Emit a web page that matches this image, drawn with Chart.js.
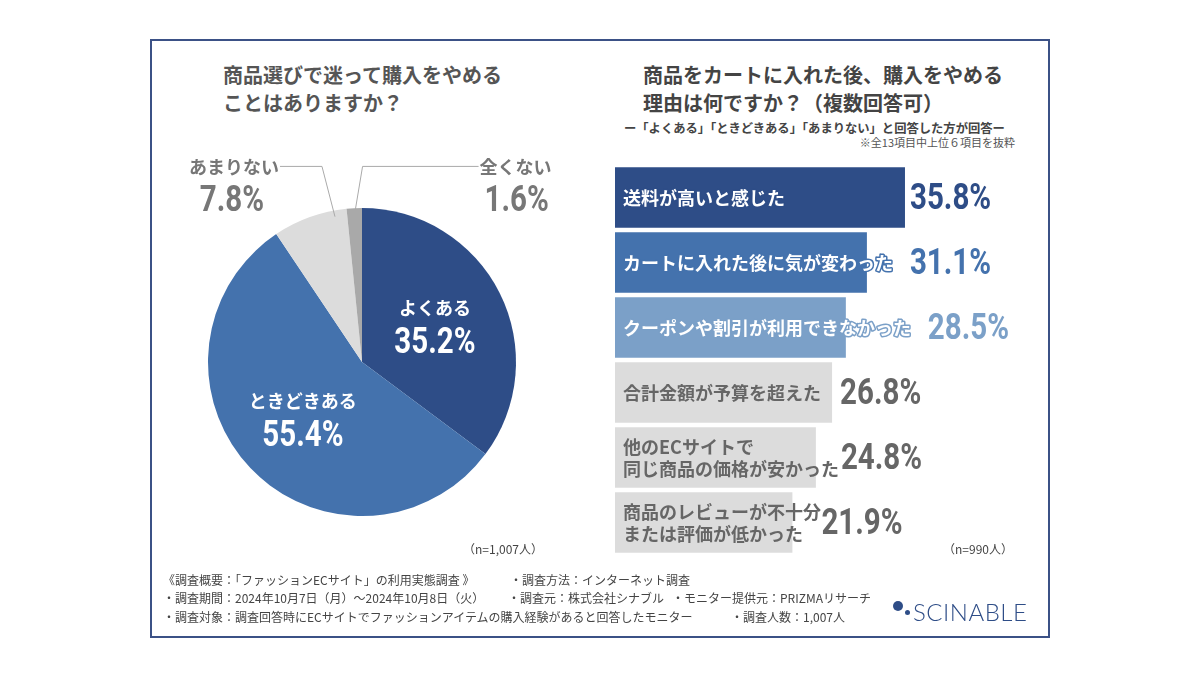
<!DOCTYPE html>
<html>
<head>
<meta charset="utf-8">
<script src="https://cdn.jsdelivr.net/npm/chart.js@4.4.1/dist/chart.umd.min.js"></script>
<style>
  html, body { margin: 0; padding: 0; background: #fff; }
  body { width: 1200px; height: 675px; position: relative; overflow: hidden;
         font-family: "Noto Sans CJK JP", "Noto Sans", sans-serif; }
  .frame { position: absolute; left: 150px; top: 39px; width: 896px; height: 595px;
           border: 2px solid #3b5186; }
  .t { position: absolute; white-space: nowrap; }
  .title { font-size: 20px; font-weight: bold; color: #555; line-height: 28px; }
  .foot { font-size: 12px; color: #444; line-height: 14px; }
  canvas { position: absolute; }
  .dot { position: absolute; border-radius: 50%; background: #2e4d87; }
</style>
</head>
<body>
<div class="frame"></div>

<div class="t title" style="left:223px; top:61px;">商品選びで迷って購入をやめる<br>ことはありますか？</div>
<div class="t title" style="left:643px; top:61px; color:#444;">商品をカートに入れた後、購入をやめる<br>理由は何ですか？（複数回答可）</div>
<div class="t" style="left:624px; top:119px; font-size:12.3px; font-weight:bold; color:#444;">ー「よくある」「ときどきある」「あまりない」と回答した方が回答ー</div>
<div class="t" style="right:185px; top:134px; font-size:11px; color:#555;">※全13項目中上位６項目を抜粋</div>

<canvas id="pie" width="404" height="424" style="left:160px; top:150px; width:404px; height:424px;"></canvas>
<canvas id="bar" width="420" height="390" style="left:615px; top:165px; width:420px; height:390px;"></canvas>

<div class="t" style="left:463px; top:540px; font-size:12px; color:#444;">（n=1,007人）</div>
<div class="t" style="left:943px; top:540px; font-size:12px; color:#444;">（n=990人）</div>

<div class="t foot" style="left:163px; top:573px;">《調査概要：「ファッションECサイト」の利用実態調査 》</div>
<div class="t foot" style="left:510px; top:573px;">・調査方法：インターネット調査</div>
<div class="t foot" style="left:163px; top:591px;">・調査期間：2024年10月7日（月）～2024年10月8日（火）</div>
<div class="t foot" style="left:508px; top:591px;">・調査元：株式会社シナブル</div>
<div class="t foot" style="left:672px; top:591px;">・モニター提供元：PRIZMAリサーチ</div>
<div class="t foot" style="left:163px; top:610px;">・調査対象：調査回答時にECサイトでファッションアイテムの購入経験があると回答したモニター</div>
<div class="t foot" style="left:731px; top:610px;">・調査人数：1,007人</div>

<div class="dot" style="left:893px; top:601px; width:10px; height:10px;"></div>
<div class="dot" style="left:905px; top:610px; width:5px; height:5px;"></div>
<div class="t" style="left:913px; top:597px; font-family:Lato, 'Open Sans', sans-serif; font-weight:300; font-size:24px; color:#2e4d87; letter-spacing:0.5px;">SCINABLE</div>

<script>
// pie data
const pieLabels = ['よくある', 'ときどきある', 'あまりない', '全くない'];
const pieValues = [35.2, 55.4, 7.8, 1.6];
const pieColors = ['#2e4d87', '#4472ad', '#dcdcdc', '#a9a9a9'];

// bar data
const barLabels = [
  '送料が高いと感じた',
  'カートに入れた後に気が変わった',
  'クーポンや割引が利用できなかった',
  '合計金額が予算を超えた',
  '他のECサイトで\n同じ商品の価格が安かった',
  '商品のレビューが不十分\nまたは評価が低かった'
];
const barValues = [35.8, 31.1, 28.5, 26.8, 24.8, 21.9];
const barColors = ['#2e4d87', '#4472ad', '#7ba0c8', '#dcdcdc', '#dcdcdc', '#dcdcdc'];
const barTextColors = ['#fff', '#fff', '#fff', '#666', '#666', '#666'];
const valueColors = ['#2e4d87', '#4472ad', '#7ba0c8', '#666', '#666', '#666'];
// gap between bar end and its value label
const valueGaps = [5, 43, 82, 8, 25, 29];

const jp = '"Noto Sans CJK JP", sans-serif';
const numFont = 'bold 36px Roboto, "DejaVu Sans", sans-serif';

// condensed-looking percentage text
function drawNum(ctx, text, x, y, align) {
  ctx.save();
  ctx.font = numFont;
  ctx.textAlign = align;
  ctx.translate(x, y);
  ctx.scale(0.82, 1);
  ctx.fillText(text, 0, 0);
  ctx.restore();
}

// labels on and around the pie
const pieLabelPlugin = {
  id: 'pieLabels',
  afterDatasetsDraw(chart) {
    const ctx = chart.ctx;
    const arcs = chart.getDatasetMeta(0).data;
    ctx.save();
    ctx.textAlign = 'center';
    ctx.textBaseline = 'middle';
    arcs.forEach(function(arc, i) {
      const mid = (arc.startAngle + arc.endAngle) / 2;
      const cx = arc.x, cy = arc.y, r = arc.outerRadius;
      const pct = pieValues[i].toFixed(1) + '%';
      if (i < 2) {
        const lx = cx + Math.cos(mid) * r * 0.53;
        const ly = cy + Math.sin(mid) * r * 0.53;
        ctx.fillStyle = '#fff';
        ctx.font = 'bold 18px ' + jp;
        ctx.fillText(pieLabels[i], lx, ly - 17);
        drawNum(ctx, pct, lx, ly + 19, 'center');
      } else {
        const left = i === 2;
        const a = left ? arc.startAngle + (arc.endAngle - arc.startAngle) * 0.83 : mid;
        const sx = cx + Math.cos(a) * r * 0.96;
        const sy = cy + Math.sin(a) * r * 0.96;
        const ey = cy - r * 1.27;
        const ex = left ? sx - 13 : sx + 8;
        const hx = left ? ex - 42 : ex + 116;
        ctx.strokeStyle = '#aaa';
        ctx.lineWidth = 1;
        ctx.beginPath();
        ctx.moveTo(sx, sy);
        ctx.lineTo(ex, ey);
        ctx.lineTo(hx, ey);
        ctx.stroke();
        const tx = left ? hx - 46 : hx + 37;
        ctx.fillStyle = '#777';
        ctx.font = 'bold 18px ' + jp;
        ctx.fillText(pieLabels[i], tx, ey + 1);
        drawNum(ctx, pct, tx - (left ? 2 : -1), ey + 36, 'center');
      }
    });
    ctx.restore();
  }
};

new Chart(document.getElementById('pie'), {
  type: 'pie',
  data: {
    labels: pieLabels,
    datasets: [{ data: pieValues, backgroundColor: pieColors, borderWidth: 0, hoverOffset: 0 }]
  },
  options: {
    responsive: false,
    animation: false,
    layout: { padding: 48 },
    plugins: { legend: { display: false }, tooltip: { enabled: false } }
  },
  plugins: [pieLabelPlugin]
});

// text inside bars and values after them
const barLabelPlugin = {
  id: 'barLabels',
  afterDatasetsDraw(chart) {
    const ctx = chart.ctx;
    const bars = chart.getDatasetMeta(0).data;
    ctx.save();
    ctx.textBaseline = 'middle';
    bars.forEach(function(bar, i) {
      const lines = barLabels[i].split('\n');
      ctx.font = 'bold 18px ' + jp;
      ctx.textAlign = 'left';
      ctx.lineJoin = 'round';
      lines.forEach(function(line, k) {
        const y = bar.y + (k - (lines.length - 1) / 2) * 22 + 1;
        if (i < 3) {
          ctx.strokeStyle = barColors[i];
          ctx.lineWidth = 3;
          ctx.strokeText(line, bar.base + 8, y);
        }
        ctx.fillStyle = barTextColors[i];
        ctx.fillText(line, bar.base + 8, y);
      });
      ctx.fillStyle = valueColors[i];
      drawNum(ctx, barValues[i].toFixed(1) + '%', bar.x + valueGaps[i], bar.y + 2, 'left');
    });
    ctx.restore();
  }
};

new Chart(document.getElementById('bar'), {
  type: 'bar',
  data: {
    labels: barLabels,
    datasets: [{ data: barValues, backgroundColor: barColors, borderWidth: 0,
                 barPercentage: 0.93, categoryPercentage: 1 }]
  },
  options: {
    indexAxis: 'y',
    responsive: false,
    animation: false,
    layout: { padding: 0 },
    scales: {
      x: { display: false, min: 0, max: 420 / 8.1 },
      y: { display: false }
    },
    plugins: { legend: { display: false }, tooltip: { enabled: false } }
  },
  plugins: [barLabelPlugin]
});
</script>
</body>
</html>
